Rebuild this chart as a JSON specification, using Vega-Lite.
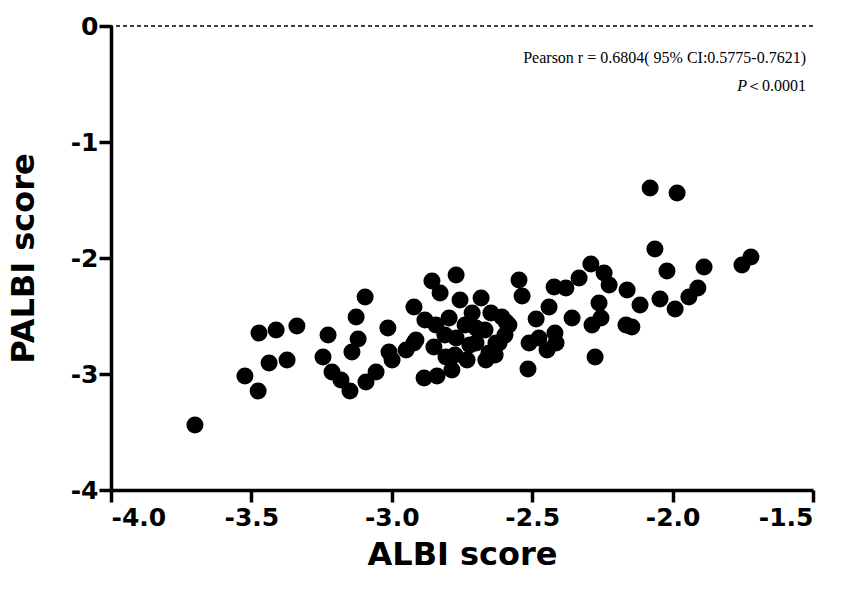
{
  "$schema": "https://vega.github.io/schema/vega-lite/v6.json",
  "width": 702,
  "height": 464,
  "autosize": {"type": "none"},
  "padding": {"left": 111, "top": 26, "right": 31, "bottom": 101},
  "background": "white",
  "config": {
    "view": {"stroke": null},
    "axis": {
      "domainColor": "black", "domainWidth": 3.5, "tickColor": "black", "tickWidth": 3.5, "tickSize": 12,
      "labelFont": "DejaVu Sans", "labelFontWeight": "bold", "labelFontSize": 25, "labelColor": "black",
      "titleFont": "DejaVu Sans", "titleFontWeight": "bold", "titleFontSize": 32, "titleColor": "black",
      "grid": false
    }
  },
  "datasets": {
    "pts": [
      {"albi": -3.701, "palbi": -3.44}, {"albi": -3.523, "palbi": -3.017}, {"albi": -3.476, "palbi": -3.147},
      {"albi": -3.473, "palbi": -2.647}, {"albi": -3.412, "palbi": -2.621}, {"albi": -3.338, "palbi": -2.586},
      {"albi": -3.437, "palbi": -2.905}, {"albi": -3.373, "palbi": -2.879}, {"albi": -3.095, "palbi": -2.336},
      {"albi": -3.127, "palbi": -2.509}, {"albi": -3.227, "palbi": -2.664}, {"albi": -3.12, "palbi": -2.698},
      {"albi": -3.245, "palbi": -2.853}, {"albi": -3.142, "palbi": -2.81}, {"albi": -3.213, "palbi": -2.983},
      {"albi": -3.181, "palbi": -3.052}, {"albi": -3.149, "palbi": -3.147}, {"albi": -3.092, "palbi": -3.069},
      {"albi": -3.056, "palbi": -2.983}, {"albi": -3.014, "palbi": -2.603}, {"albi": -3.01, "palbi": -2.81},
      {"albi": -2.999, "palbi": -2.879}, {"albi": -2.949, "palbi": -2.793}, {"albi": -2.921, "palbi": -2.733},
      {"albi": -2.921, "palbi": -2.422}, {"albi": -2.857, "palbi": -2.198}, {"albi": -2.771, "palbi": -2.147},
      {"albi": -2.828, "palbi": -2.302}, {"albi": -2.885, "palbi": -3.034}, {"albi": -2.839, "palbi": -3.017},
      {"albi": -2.843, "palbi": -2.578}, {"albi": -2.796, "palbi": -2.517}, {"albi": -2.714, "palbi": -2.474},
      {"albi": -2.647, "palbi": -2.474}, {"albi": -2.593, "palbi": -2.552}, {"albi": -2.85, "palbi": -2.767},
      {"albi": -2.807, "palbi": -2.853}, {"albi": -2.7, "palbi": -2.733}, {"albi": -2.629, "palbi": -2.733},
      {"albi": -2.665, "palbi": -2.879}, {"albi": -2.732, "palbi": -2.879}, {"albi": -2.771, "palbi": -2.69},
      {"albi": -2.7, "palbi": -2.603}, {"albi": -2.914, "palbi": -2.707}, {"albi": -2.786, "palbi": -2.966},
      {"albi": -2.682, "palbi": -2.345}, {"albi": -2.547, "palbi": -2.19}, {"albi": -2.536, "palbi": -2.328},
      {"albi": -2.608, "palbi": -2.509}, {"albi": -2.583, "palbi": -2.578}, {"albi": -2.618, "palbi": -2.733},
      {"albi": -2.654, "palbi": -2.819}, {"albi": -2.422, "palbi": -2.25}, {"albi": -2.38, "palbi": -2.259},
      {"albi": -2.333, "palbi": -2.172}, {"albi": -2.291, "palbi": -2.052}, {"albi": -2.244, "palbi": -2.129},
      {"albi": -2.226, "palbi": -2.233}, {"albi": -2.262, "palbi": -2.388}, {"albi": -2.255, "palbi": -2.517},
      {"albi": -2.287, "palbi": -2.578}, {"albi": -2.162, "palbi": -2.276}, {"albi": -2.116, "palbi": -2.405},
      {"albi": -2.166, "palbi": -2.578}, {"albi": -2.145, "palbi": -2.595}, {"albi": -2.045, "palbi": -2.353},
      {"albi": -1.991, "palbi": -2.44}, {"albi": -1.942, "palbi": -2.336}, {"albi": -1.91, "palbi": -2.259},
      {"albi": -2.276, "palbi": -2.853}, {"albi": -2.515, "palbi": -2.957}, {"albi": -2.486, "palbi": -2.526},
      {"albi": -2.44, "palbi": -2.422}, {"albi": -2.358, "palbi": -2.517}, {"albi": -2.511, "palbi": -2.733},
      {"albi": -2.476, "palbi": -2.69}, {"albi": -2.447, "palbi": -2.793}, {"albi": -2.419, "palbi": -2.647},
      {"albi": -2.415, "palbi": -2.733}, {"albi": -2.08, "palbi": -1.397}, {"albi": -1.984, "palbi": -1.44},
      {"albi": -2.063, "palbi": -1.922}, {"albi": -2.02, "palbi": -2.112}, {"albi": -1.888, "palbi": -2.078},
      {"albi": -1.753, "palbi": -2.06}, {"albi": -1.721, "palbi": -1.991},
      {"albi": -2.757, "palbi": -2.362}, {"albi": -2.739, "palbi": -2.578}, {"albi": -2.668, "palbi": -2.621},
      {"albi": -2.632, "palbi": -2.836}, {"albi": -2.811, "palbi": -2.664}, {"albi": -2.882, "palbi": -2.534},
      {"albi": -2.597, "palbi": -2.664}, {"albi": -2.722, "palbi": -2.75}, {"albi": -2.775, "palbi": -2.836}
    ],
    "notes": [
      {"albi": -1.525, "palbi": -0.276, "label": "Pearson r = 0.6804( 95% CI:0.5775-0.7621)", "style": "normal"},
      {"albi": -1.525, "palbi": -0.517, "label": "＜0.0001", "style": "normal"},
      {"albi": -1.735, "palbi": -0.517, "label": "P", "style": "italic"}
    ],
    "ref": [{"level": 0}]
  },
  "layer": [
    {
      "data": {"name": "pts"},
      "mark": {"type": "point", "filled": true, "shape": "circle", "size": 290, "color": "black", "opacity": 1},
      "encoding": {
        "x": {"field": "albi", "type": "quantitative", "scale": {"domain": [-4, -1.5], "nice": false, "zero": false},
          "axis": {"values": [-4, -3.5, -3, -2.5, -2, -1.5], "format": ".1f", "labelExpr": "replace(datum.label, '−', '-')", "title": "ALBI score", "labelPadding": 3, "titlePadding": 9}},
        "y": {"field": "palbi", "type": "quantitative", "scale": {"domain": [-4, 0], "nice": false, "zero": false},
          "axis": {"values": [-4, -3, -2, -1, 0], "format": "d", "labelExpr": "replace(datum.label, '−', '-')", "title": "PALBI score", "labelPadding": 1, "titlePadding": 30}}
      }
    },
    {
      "data": {"name": "ref"},
      "mark": {"type": "rule", "stroke": "black", "strokeWidth": 1.5, "strokeDash": [4, 3]},
      "encoding": {"y": {"field": "level", "type": "quantitative"}}
    },
    {
      "data": {"name": "notes"},
      "transform": [{"filter": "datum.style === 'normal'"}],
      "mark": {"type": "text", "align": "right", "baseline": "middle", "font": "Liberation Serif", "fontSize": 16, "color": "black"},
      "encoding": {
        "x": {"field": "albi", "type": "quantitative"},
        "y": {"field": "palbi", "type": "quantitative"},
        "text": {"field": "label"}
      }
    },
    {
      "data": {"name": "notes"},
      "transform": [{"filter": "datum.style === 'italic'"}],
      "mark": {"type": "text", "align": "right", "baseline": "middle", "font": "Liberation Serif", "fontSize": 16, "fontStyle": "italic", "color": "black"},
      "encoding": {
        "x": {"field": "albi", "type": "quantitative"},
        "y": {"field": "palbi", "type": "quantitative"},
        "text": {"field": "label"}
      }
    }
  ]
}
